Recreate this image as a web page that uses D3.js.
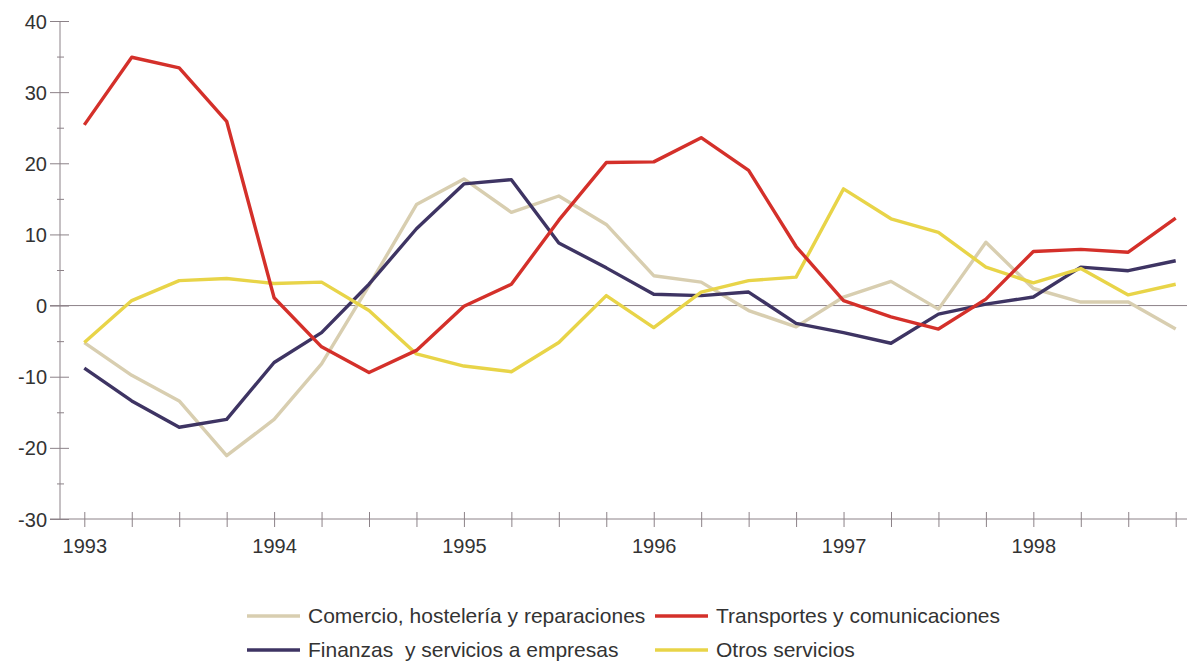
<!DOCTYPE html>
<html>
<head>
<meta charset="utf-8">
<script src="https://cdn.jsdelivr.net/npm/d3@7"></script>
<style>
    body { margin: 0; background: #fff; }
    svg text { font-family: "Liberation Sans", Arial, sans-serif; fill: #333; }
</style>
</head>
<body>
<svg id="chart"></svg>
<script>
const WIDTH = 1187;
const HEIGHT = 661;

// quarters, 1993 Q1 .. 1998 Q4
const quarters = d3.range(24).map(i => 1993 + i / 4);
const yearLabels = [1993, 1994, 1995, 1996, 1997, 1998];

const comercio = [-5.2, -9.8, -13.4, -21.1, -16.0, -8.2, 2.8, 14.2, 17.8, 13.1, 15.4, 11.4,
    4.2, 3.3, -0.7, -3.0, 1.2, 3.4, -0.5, 8.9, 2.4, 0.5, 0.5, -3.3];
const transportes = [25.4, 34.9, 33.4, 25.9, 1.1, -5.8, -9.4, -6.3, -0.1, 3.0, 12.0, 20.1,
    20.2, 23.6, 19.0, 8.3, 0.7, -1.6, -3.3, 0.9, 7.6, 7.9, 7.5, 12.3];
const finanzas = [-8.8, -13.4, -17.1, -16.0, -8.0, -3.8, 3.0, 10.8, 17.1, 17.7, 8.8, 5.3,
    1.6, 1.4, 1.9, -2.5, -3.8, -5.3, -1.2, 0.2, 1.2, 5.4, 4.9, 6.3];
const otros = [-5.2, 0.7, 3.5, 3.8, 3.1, 3.3, -0.7, -6.8, -8.5, -9.3, -5.2, 1.4,
    -3.1, 1.9, 3.5, 4.0, 16.4, 12.2, 10.3, 5.4, 3.2, 5.2, 1.5, 3.0];

const seriesNames = ['Comercio, hostelería y reparaciones', 'Transportes y comunicaciones',
    'Finanzas  y servicios a empresas', 'Otros servicios'];
const seriesColors = ['#d8ceb0', '#d4302a', '#3e3463', '#e8d448'];
const seriesValues = [comercio, transportes, finanzas, otros];

const axisColor = '#8c8288';

function makeChart() {
    let svg = d3.select('#chart')
        .attr('width', WIDTH)
        .attr('height', HEIGHT);

    let x = d3.scaleLinear()
        .domain([1993, 1998.75])
        .range([84.3, 1175.7]);
    let y = d3.scaleLinear()
        .domain([-30, 40])
        .range([519, 21]);

    const axisX = 60;

    // minor y ticks (every 5)
    let yMinor = svg.append('g')
        .attr('transform', `translate(${axisX},0)`)
        .call(d3.axisLeft(y).tickValues(d3.range(-25, 40, 10)).tickFormat(''));
    yMinor.select('.domain').remove();
    yMinor.selectAll('line').attr('x1', -3).attr('x2', 4).attr('stroke', axisColor);

    // major y ticks with labels (plain hyphen for negatives)
    let yAxis = svg.append('g')
        .attr('transform', `translate(${axisX},0)`)
        .call(d3.axisLeft(y).tickValues(d3.range(-30, 41, 10)).tickFormat(d => String(d)));
    yAxis.select('.domain').remove();
    yAxis.selectAll('line').attr('x1', -10).attr('x2', 9).attr('stroke', axisColor);
    yAxis.selectAll('text')
        .attr('x', -13)
        .attr('dy', '0.35em')
        .style('font-size', '20px');

    svg.append('line')
        .attr('x1', axisX).attr('x2', axisX)
        .attr('y1', y(40)).attr('y2', y(-30))
        .attr('stroke', axisColor);

    // x axis
    let xAxis = svg.append('g')
        .attr('transform', `translate(0,${y(-30)})`)
        .call(d3.axisBottom(x).tickValues(quarters)
            .tickFormat(d => yearLabels.includes(d) ? d : ''));
    xAxis.select('.domain').remove();
    xAxis.selectAll('line').attr('y1', -7).attr('y2', 8).attr('stroke', axisColor);
    xAxis.selectAll('text')
        .attr('y', 27)
        .attr('dy', '0.35em')
        .style('font-size', '20px');

    svg.append('line')
        .attr('x1', 50).attr('x2', WIDTH)
        .attr('y1', y(-30)).attr('y2', y(-30))
        .attr('stroke', axisColor);

    // zero line
    svg.append('line')
        .attr('x1', 50).attr('x2', WIDTH)
        .attr('y1', y(0)).attr('y2', y(0))
        .attr('stroke', axisColor);

    let line = d3.line()
        .x((d, i) => x(quarters[i]))
        .y(d => y(d));

    // draw order: beige, navy, yellow, red
    [0, 2, 3, 1].forEach(k => {
        svg.append('path')
            .datum(seriesValues[k])
            .attr('fill', 'none')
            .attr('stroke', seriesColors[k])
            .attr('stroke-width', 3.4)
            .attr('stroke-linejoin', 'round')
            .attr('d', line);
    });

    // legend
    const legendPos = [[247, 616], [655, 616], [247, 650], [655, 650]];
    let legend = svg.selectAll('.legend-item')
        .data(seriesNames)
        .enter().append('g')
        .attr('class', 'legend-item')
        .attr('transform', (d, i) => `translate(${legendPos[i][0]},${legendPos[i][1]})`);
    legend.append('line')
        .attr('x1', 0).attr('x2', 53)
        .attr('stroke', (d, i) => seriesColors[i])
        .attr('stroke-width', 3.5);
    legend.append('text')
        .attr('x', 61)
        .attr('dy', '0.35em')
        .style('font-size', '21px')
        .style('white-space', 'pre')
        .text(d => d);
}

makeChart();
</script>
</body>
</html>
